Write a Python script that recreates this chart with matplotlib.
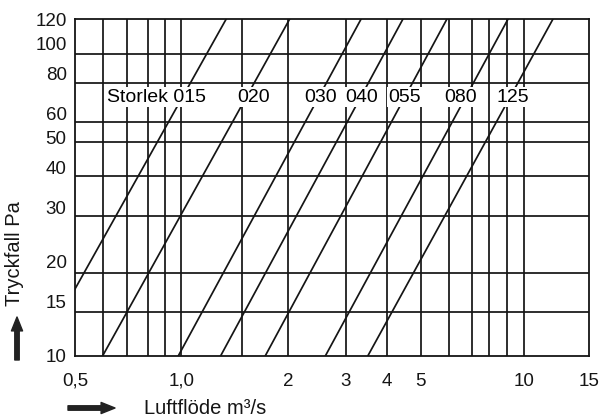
import matplotlib.pyplot as plt
from matplotlib.ticker import NullLocator, NullFormatter

plt.rcParams['font.family'] = ['Liberation Sans', 'DejaVu Sans']

# axis ticks and grid
flow_ticks = [0.5, 1.01, 2.05, 3.0, 3.94, 4.93, 9.75, 15]
flow_tick_labels = ['0,5', '1,0', '2', '3', '4', '5', '10', '15']
flow_grid = [0.60, 0.705, 0.81, 0.905, 1.01, 1.51, 2.05, 3.0, 3.94, 4.93,
             5.94, 6.91, 7.74, 8.71, 9.75]
pressure_ticks = [10, 15, 20, 30, 40, 50, 60, 80, 100, 120]
pressure_grid = [13.8, 18.5, 28.1, 37.8, 48.4, 56.2, 74.8, 92.7]

# size curves: flow (m3/s) at 10 Pa and at 120 Pa
sizes = ['Storlek 015', '020', '030', '040', '055', '080', '125']
flow_at_10pa = [0.39, 0.60, 0.99, 1.31, 1.76, 2.62, 3.47]
flow_at_120pa = [1.36, 2.07, 3.32, 4.38, 5.86, 8.78, 11.82]
label_flow = [0.857, 1.634, 2.546, 3.34, 4.44, 6.43, 9.07]
label_pressure = 67.5

ink = '#151515'

fig = plt.figure(figsize=(6.04, 4.2), dpi=100)
ax = fig.add_axes([75 / 604, 64 / 420, 514 / 604, 337 / 420])
ax.set_xscale('log')
ax.set_yscale('log')
ax.set_xlim(0.5, 15)
ax.set_ylim(10, 120)

for x in flow_grid:
    ax.axvline(x, color=ink, lw=1.25, zorder=1)
for y in pressure_grid:
    ax.axhline(y, color=ink, lw=1.25, zorder=1)

for q10, q120 in zip(flow_at_10pa, flow_at_120pa):
    ax.plot([q10, q120], [10, 120], color=ink, lw=1.25, zorder=2)

for name, xq in zip(sizes, label_flow):
    ax.text(xq, label_pressure, name, fontsize=14, ha='center', va='center',
            zorder=5, bbox=dict(boxstyle='square,pad=0.1', fc='white', ec='none'))

for s in ax.spines.values():
    s.set_color(ink)
    s.set_linewidth(1.3)

ax.set_xticks(flow_ticks, flow_tick_labels)
ax.set_yticks(pressure_ticks, [str(v) for v in pressure_ticks])
ax.xaxis.set_minor_locator(NullLocator())
ax.yaxis.set_minor_locator(NullLocator())
ax.xaxis.set_minor_formatter(NullFormatter())
ax.yaxis.set_minor_formatter(NullFormatter())
ax.tick_params(axis='x', length=0, pad=12, labelsize=13.5, labelcolor=ink)
ax.tick_params(axis='y', length=0, pad=6, labelsize=13.5, labelcolor=ink)

fig.text(15 / 604, 1 - 254 / 420, 'Tryckfall Pa', rotation=90, fontsize=14.5,
         ha='center', va='center', color=ink)
fig.text(144 / 604, 1 - 408 / 420, 'Luftflöde m³/s', fontsize=14.5,
         ha='left', va='center', color=ink)

arrow = dict(arrowstyle='simple,head_length=1.0,head_width=0.8,tail_width=0.32',
             fc='#222222', ec='#222222', mutation_scale=10, shrinkA=0, shrinkB=0)
ax.annotate('', xy=(17, 420 - 317), xytext=(17, 420 - 360),
            xycoords='figure pixels', textcoords='figure pixels', arrowprops=arrow)
ax.annotate('', xy=(115, 420 - 408), xytext=(68, 420 - 408),
            xycoords='figure pixels', textcoords='figure pixels', arrowprops=arrow)

fig.savefig('out.png', dpi=100)
